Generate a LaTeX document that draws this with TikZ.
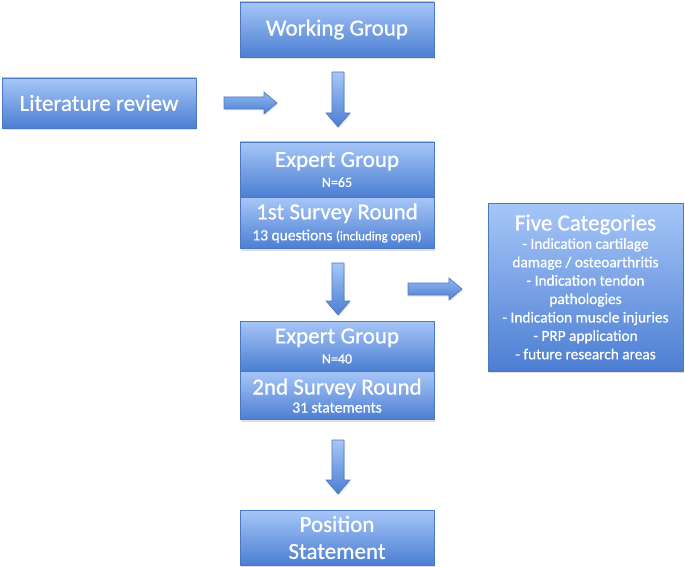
\documentclass[tikz,border=0pt]{standalone}
\usepackage{fontspec}
\setmainfont{Carlito}[FakeBold=0.7]
\usetikzlibrary{shadows}
\definecolor{boxtop}{HTML}{A6C6F8}
\definecolor{boxbot}{HTML}{4C7ED2}
\definecolor{boxline}{HTML}{4A78C2}
\tikzset{
  box/.style={shade, top color=boxtop, bottom color=boxbot, draw=boxline, line width=0.6pt,
    minimum width=194pt, text=white, align=center, inner sep=0pt,
    drop shadow={opacity=0.25, shadow xshift=1pt, shadow yshift=-2pt}},
  barrow/.style={shade, top color=boxtop, bottom color=boxbot, draw=boxline, line width=0.6pt,
    drop shadow={opacity=0.2, shadow xshift=1pt, shadow yshift=-1.5pt}},
  harrow/.style={shade, shading angle=0, top color=boxtop!80!boxbot, bottom color=boxbot, draw=boxline, line width=0.6pt,
    drop shadow={opacity=0.2, shadow xshift=1pt, shadow yshift=-1.5pt}},
  big/.style={font=\fontsize{23}{25}\selectfont},
}
\newcommand{\downarrowshape}[3]{% x, ytop, ybottom
  \path[barrow] (#1-6,#2) -- (#1+6,#2) -- (#1+6,#3-14) -- (#1+12,#3-14) -- (#1,#3) -- (#1-12,#3-14) -- (#1-6,#3-14) -- cycle;}
\newcommand{\rightarrowshape}[3]{% y, xleft, xright
  \path[harrow] (#2,#1-6) -- (#3-13,#1-6) -- (#3-13,#1-11) -- (#3,#1) -- (#3-13,#1+11) -- (#3-13,#1+6) -- (#2,#1+6) -- cycle;}
\begin{document}
\begin{tikzpicture}[x=1pt,y=-1pt]
\useasboundingbox (0,0) rectangle (685,567);

% Working group
\node[box, big, minimum height=55pt] (wg) at (337,29.5) {Working Group};
% Literature review
\node[box, big, minimum height=50pt] (lit) at (99,103) {Literature review};
% Expert group 1
\node[box, minimum height=55pt, font=\fontsize{14}{16}\selectfont] (eg1) at (337,169.5)
  {{\fontsize{23}{23}\selectfont Expert Group}\\[4pt]N=65};
\node[box, minimum height=51pt, anchor=north, font=\fontsize{15.5}{16}\selectfont] (sr1) at (eg1.south)
  {{\fontsize{23}{23}\selectfont 1st Survey Round}\\[5pt]13 questions {\fontsize{13}{13}\selectfont(including open)}};
% Five categories
\node[box, minimum width=195pt, minimum height=168pt, font=\fontsize{15.3}{18.4}\selectfont] (five) at (585.5,287)
  {{\fontsize{23}{23}\selectfont Five Categories}\\[0pt]
   - Indication cartilage\\
   damage / osteoarthritis\\
   - Indication tendon\\
   pathologies\\
   - Indication muscle injuries\\
   - PRP application\\
   - future research areas};
% Expert group 2
\node[box, minimum height=50pt, font=\fontsize{14}{16}\selectfont] (eg2) at (337,346)
  {{\fontsize{23}{23}\selectfont Expert Group}\\[4pt]N=40};
\node[box, minimum height=48pt, anchor=north, font=\fontsize{15.5}{16}\selectfont] (sr2) at (eg2.south)
  {{\fontsize{23}{23}\selectfont 2nd Survey Round}\\[2pt]31 statements};
% Position statement
\node[box, minimum height=55pt, font=\fontsize{23}{27}\selectfont] (ps) at (337,537.5)
  {Position\\ Statement};

% block arrows
\downarrowshape{338}{72}{127}
\rightarrowshape{103}{224}{277}
\downarrowshape{338}{263}{315}
\rightarrowshape{289}{408}{462}
\downarrowshape{338}{440}{494}
\end{tikzpicture}
\end{document}
